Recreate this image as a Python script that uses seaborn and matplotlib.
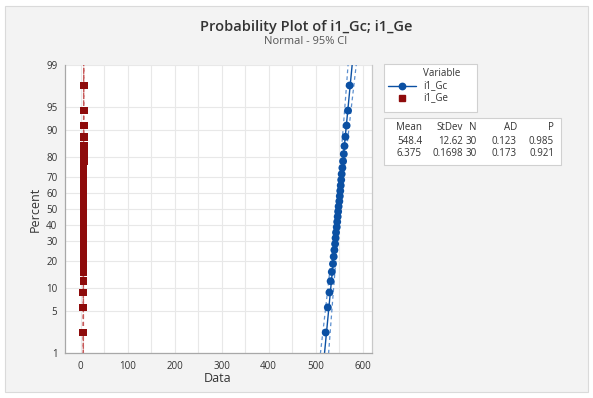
import numpy as np
import pandas as pd
import seaborn as sns
import matplotlib
matplotlib.use("Agg")
import matplotlib.pyplot as plt
from matplotlib.patches import Rectangle
from matplotlib.lines import Line2D
from matplotlib.ticker import FixedLocator, MultipleLocator
from statistics import NormalDist

# ---------------- data ----------------
variables = ["i1_Gc", "i1_Ge"]
gc_values = [521.5, 526.0, 529.5, 532.0, 534.5, 537.0, 538.5, 540.0, 541.5, 542.5,
             543.5, 545.0, 546.0, 547.0, 548.0, 549.0, 550.5, 551.5, 552.5, 553.5,
             554.5, 555.5, 557.0, 558.5, 560.0, 561.5, 563.5, 566.0, 569.0, 572.5]
ge_values = [6.04, 6.10, 6.16, 6.20, 6.23, 6.26, 6.28, 6.30, 6.31, 6.33,
             6.34, 6.36, 6.37, 6.38, 6.39, 6.40, 6.41, 6.42, 6.44, 6.45,
             6.47, 6.48, 6.50, 6.52, 6.54, 6.57, 6.60, 6.63, 6.68, 6.72]
percent_positions = [2.30, 5.59, 8.88, 12.17, 15.46, 18.75, 22.04, 25.33, 28.62, 31.91,
                     35.20, 38.49, 41.78, 45.07, 48.36, 51.64, 54.93, 58.22, 61.51, 64.80,
                     68.09, 71.38, 74.67, 77.96, 81.25, 84.54, 87.83, 91.12, 94.41, 97.70]
means = [548.4, 6.375]
stdevs = [12.62, 0.1698]
counts = [30, 30]
ad_values = [0.123, 0.173]
p_values = [0.985, 0.921]
mean_labels = ["548.4", "6.375"]
stdev_labels = ["12.62", "0.1698"]
ad_labels = ["0.123", "0.173"]
p_labels = ["0.985", "0.921"]
y_ticks = [1, 5, 10, 20, 30, 40, 50, 60, 70, 80, 90, 95, 99]
x_ticks = [0, 100, 200, 300, 400, 500, 600]

colors = {"i1_Gc": "#0B50A3", "i1_Ge": "#8E0B0B"}
ci_colors = {"i1_Gc": "#5C8FCF", "i1_Ge": "#C75A5A"}

df = pd.DataFrame({
    "Data": gc_values + ge_values,
    "Percent": percent_positions + percent_positions,
    "Variable": ["i1_Gc"] * len(gc_values) + ["i1_Ge"] * len(ge_values),
})

# ---------------- normal probability scale ----------------
nd = NormalDist()
_ppf = np.vectorize(nd.inv_cdf, otypes=[float])
_cdf = np.vectorize(nd.cdf, otypes=[float])


def fwd(p):
    p = np.clip(np.asarray(p, dtype=float), 1e-4, 100 - 1e-4)
    return _ppf(p / 100.0)


def inv(z):
    return _cdf(np.asarray(z, dtype=float)) * 100.0


W, H = 593, 398
sns.set_theme(style="white")
plt.rcParams["font.family"] = ["Open Sans", "DejaVu Sans"]

fig = plt.figure(figsize=(W / 100, H / 100), dpi=100)
fig.patch.set_facecolor("white")
fig.add_artist(Rectangle((5 / W, 1 - 392 / H), 583 / W, 386 / H, transform=fig.transFigure,
                         facecolor="#F3F3F3", edgecolor="#DADADA", lw=0.8, zorder=-10))


def fx(x):
    return x / W


def fy(y):
    return 1 - y / H


ax = fig.add_axes([fx(65), fy(353), (372 - 65) / W, (353 - 65) / H])
ax.set_facecolor("white")
ax.set_yscale("function", functions=(fwd, inv))

# fitted lines and confidence bands
zgrid = np.linspace(-3.0, 3.0, 121)
pgrid = inv(zgrid)
for var, m, s, n in zip(variables, means, stdevs, counts):
    fit = m + s * zgrid
    half = 1.96 * s * np.sqrt((1 + zgrid ** 2 / 2) / n)
    if var == "i1_Gc":
        ax.plot(fit, pgrid, color=colors[var], lw=1.0, zorder=2)
    else:
        ax.plot(fit, pgrid, color=ci_colors[var], lw=1.0, ls=(0, (3, 2.5)), zorder=2)
    ax.plot(fit - half, pgrid, color=ci_colors[var], lw=0.9, ls=(0, (3, 2.5)), zorder=2)
    ax.plot(fit + half, pgrid, color=ci_colors[var], lw=0.9, ls=(0, (3, 2.5)), zorder=2)

sns.scatterplot(data=df, x="Data", y="Percent", hue="Variable", style="Variable",
                markers={"i1_Gc": "o", "i1_Ge": "s"}, palette=colors, s=32,
                linewidth=0, legend=False, ax=ax, zorder=3)

ax.set_ylim(1, 99)
ax.set_xlim(-33, 620)
ax.yaxis.set_major_locator(FixedLocator(y_ticks))
ax.yaxis.set_minor_locator(FixedLocator([]))
ax.set_yticklabels([str(t) for t in y_ticks])
ax.xaxis.set_major_locator(FixedLocator(x_ticks))
ax.xaxis.set_minor_locator(MultipleLocator(50))
ax.grid(True, which="both", color="#E8E8E8", lw=0.8)
ax.set_axisbelow(True)
ax.tick_params(axis="both", which="major", labelsize=7, colors="#333333", length=3.5,
               width=0.8, direction="out", pad=2)
ax.tick_params(axis="both", which="minor", length=0)
for sp in ax.spines.values():
    sp.set_color("#C8C8C8")
    sp.set_linewidth(0.9)
ax.spines["top"].set_visible(False)
ax.spines["left"].set_color("#A8A8A8")
ax.spines["bottom"].set_color("#A8A8A8")
ax.tick_params(axis="both", which="major", color="#A8A8A8")
ax.set_xlabel("")
ax.set_ylabel("")

# axis labels and titles
fig.text(fx(218), fy(379), "Data", ha="center", va="center", fontsize=9, color="#333333")
fig.text(fx(35), fy(209), "Percent", ha="center", va="center", rotation=90, fontsize=9,
         color="#333333")
fig.text(fx(306), fy(27), "Probability Plot of i1_Gc; i1_Ge", ha="center", va="center",
         fontsize=10.5, fontweight="semibold", color="#333333")
fig.text(fx(306), fy(42), "Normal - 95% CI", ha="center", va="center", fontsize=8,
         color="#555555")

# legend box
fig.add_artist(Rectangle((fx(384), fy(112)), (477 - 384) / W, (112 - 64) / H,
                         transform=fig.transFigure, facecolor="white", edgecolor="#D0D0D0",
                         lw=0.8))
fig.text(fx(423), fy(73), "Variable", ha="left", va="center", fontsize=7, color="#333333")
fig.text(fx(423), fy(86), variables[0], ha="left", va="center", fontsize=7, color="#333333")
fig.text(fx(423), fy(98), variables[1], ha="left", va="center", fontsize=7, color="#333333")
fig.add_artist(Line2D([fx(388), fx(416)], [fy(86), fy(86)], transform=fig.transFigure,
                      color=colors["i1_Gc"], lw=1.0))
fig.add_artist(Line2D([fx(402)], [fy(86)], transform=fig.transFigure, marker="o",
                      markersize=4.6, color=colors["i1_Gc"], lw=0))
fig.add_artist(Line2D([fx(402)], [fy(98)], transform=fig.transFigure, marker="s",
                      markersize=4.4, color=colors["i1_Ge"], lw=0))

# statistics box
fig.add_artist(Rectangle((fx(384), fy(165)), (561 - 384) / W, (165 - 118) / H,
                         transform=fig.transFigure, facecolor="white", edgecolor="#D0D0D0",
                         lw=0.8))
col_right = [422, 463, 477, 517, 554]
headers = ["Mean", "StDev", "N", "AD", "P"]
rows_y = [128, 141.5, 154]
for xr, h in zip(col_right, headers):
    fig.text(fx(xr), fy(rows_y[0]), h, ha="right", va="center", fontsize=7, color="#333333")
for i in range(2):
    vals = [mean_labels[i], stdev_labels[i], str(counts[i]), ad_labels[i], p_labels[i]]
    for xr, v in zip(col_right, vals):
        fig.text(fx(xr), fy(rows_y[i + 1]), v, ha="right", va="center", fontsize=7,
                 color="#333333")

fig.savefig("out.png", dpi=100, facecolor=fig.get_facecolor())
